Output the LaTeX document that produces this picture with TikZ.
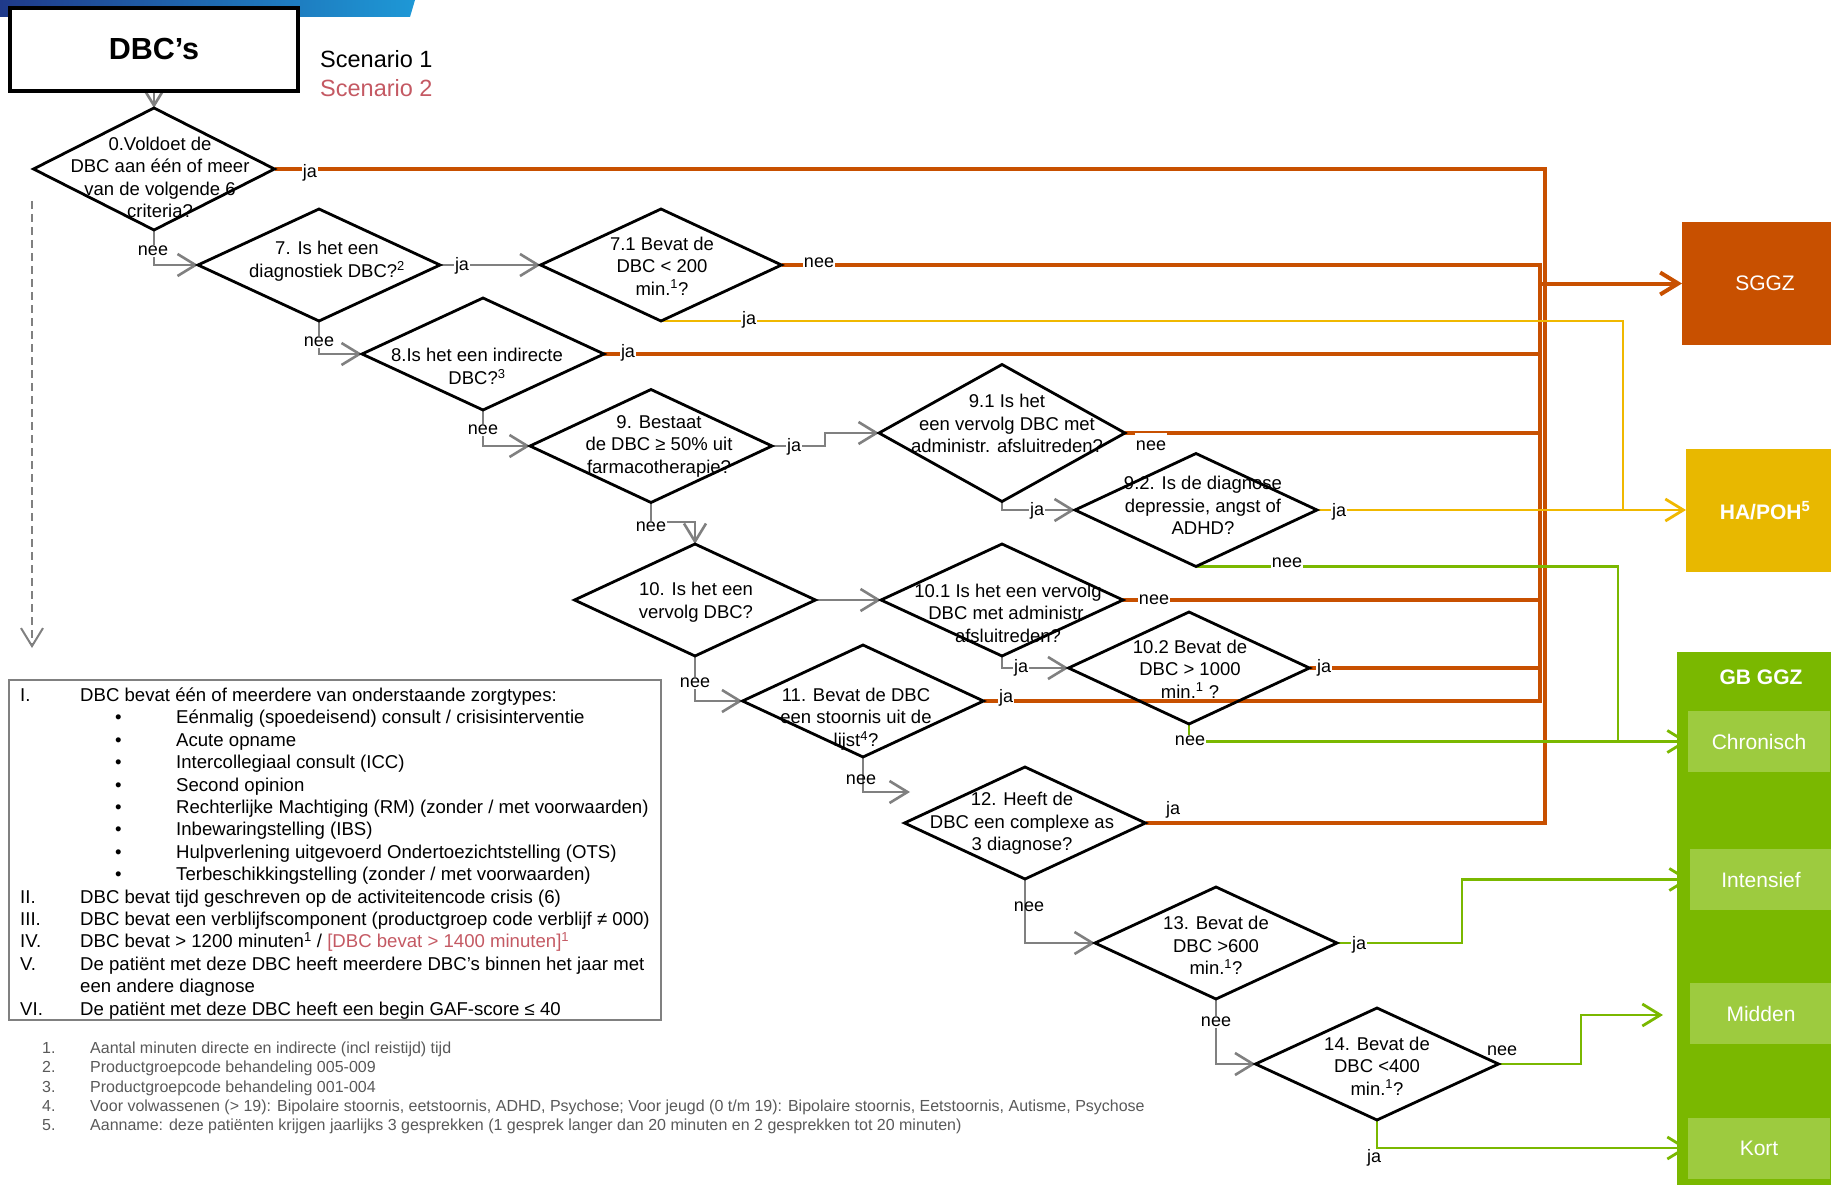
\documentclass[tikz,border=0pt]{standalone}
\usepackage{fontspec}
\setmainfont{Liberation Sans}
\usetikzlibrary{shapes.geometric,arrows.meta,backgrounds}

\definecolor{sggzkleur}{RGB}{200,80,0}
\definecolor{hapohkleur}{RGB}{232,184,0}
\definecolor{geel}{RGB}{240,184,0}
\definecolor{gbkleur}{RGB}{122,184,0}
\definecolor{gbsub}{RGB}{157,203,63}
\definecolor{lijngrijs}{RGB}{128,128,128}
\definecolor{voetgrijs}{RGB}{89,89,89}
\definecolor{scentwee}{RGB}{196,89,99}
\definecolor{balklinks}{RGB}{31,58,138}
\definecolor{balkrechts}{RGB}{30,152,214}

\newcommand{\dfont}{\fontsize{18.5}{22.5}\selectfont}
\newcommand{\lfont}{\fontsize{18}{21}\selectfont}
\newcommand{\cfont}{\fontsize{18.6}{22.4}\selectfont}
\newcommand{\vfont}{\fontsize{16}{19.3}\selectfont}
\newcommand{\bfont}{\fontsize{21}{25}\selectfont}
\newcommand{\bul}{\hspace*{35pt}\makebox[61pt][l]{\textbullet}}

\begin{document}
\begin{tikzpicture}[x=1pt,y=-1pt,
    >={Straight Barb[length=18pt,width=22pt]},
    dia/.style={draw,diamond,line width=2.8pt,inner sep=0pt,outer sep=0pt,
        minimum width=241pt,minimum height=112pt},
    dtxt/.style={align=center,font=\dfont,inner sep=0pt},
    lbl/.style={font=\lfont,fill=white,inner sep=1pt},
    lblnf/.style={font=\lfont,inner sep=1pt},
    grijs/.style={draw=lijngrijs,line width=2.6pt},
    oranje/.style={draw=sggzkleur,line width=3.2pt},
    geellijn/.style={draw=geel,line width=2.8pt},
    groen/.style={draw=gbkleur,line width=2.8pt},
    doel/.style={inner sep=0pt,outer sep=0pt,text=white}]
\useasboundingbox (0,0) rectangle (1831,1185);

%% Top bar and title
\shade[left color=balklinks,right color=balkrechts]
    (0,0) -- (415,0) -- (410,17) -- (0,17) -- cycle;
\node[draw,line width=3.3pt,fill=white,inner sep=0pt,minimum width=288pt,
    minimum height=83pt,font=\bfseries\fontsize{30.5}{34}\selectfont]
    (dbc) at (154,49.5) {DBC’s};
\node[anchor=base west,inner sep=0pt,font=\fontsize{23.5}{28}\selectfont]
    (scen1) at (320,67.7) {Scenario 1};
\node[anchor=base west,inner sep=0pt,font=\fontsize{23.5}{28}\selectfont,text=scentwee]
    (scen2) at (320,96.7) {Scenario 2};

%% Decision diamonds
\node[dia,minimum height=122pt] (d0) at (154,169) {};
\node[dia,minimum width=242pt] (d7) at (319,265) {};
\node[dia] (d71) at (661,265) {};
\node[dia,minimum width=242pt] (d8) at (483,354) {};
\node[dia,minimum width=242pt,minimum height=113pt] (d9) at (651,446) {};
\node[dia,minimum width=246pt,minimum height=137pt] (d91) at (1002,433) {};
\node[dia,minimum width=242pt,minimum height=113pt] (d92) at (1196,510) {};
\node[dia] (d10) at (695,600) {};
\node[dia,minimum width=242pt] (d101) at (1002,600) {};
\node[dia] (d102) at (1189,668) {};
\node[dia] (d11) at (863,701) {};
\node[dia] (d12) at (1025,823) {};
\node[dia,minimum width=242pt] (d13) at (1216,943) {};
\node[dia,minimum width=243pt] (d14) at (1377,1064) {};

%% Diamond texts
\node[dtxt] (t0) at (160,177.5) {0.Voldoet de\\DBC aan één of meer\\van de volgende 6\\criteria?};
\node[dtxt] (t7) at (327,261) {7. Is het een\\diagnostiek DBC?\textsuperscript{2}};
\node[dtxt] (t71) at (662,266) {7.1 Bevat de\\DBC < 200\\min.\textsuperscript{1}?};
\node[dtxt] (t8) at (477,366.5) {8.Is het een indirecte\\DBC?\textsuperscript{3}};
\node[dtxt] (t9) at (659,446) {9. Bestaat\\de DBC ≥ 50\% uit\\farmacotherapie?};
\node[dtxt] (t91) at (1007,423.5) {9.1 Is het\\een vervolg DBC met\\administr. afsluitreden?};
\node[dtxt] (t92) at (1203,505.5) {9.2. Is de diagnose\\depressie, angst of\\ADHD?};
\node[dtxt] (t10) at (696,602) {10. Is het een\\vervolg DBC?};
\node[dtxt] (t101) at (1008,613) {10.1 Is het een vervolg\\DBC met administr.\\afsluitreden?};
\node[dtxt] (t102) at (1190,669) {10.2 Bevat de\\DBC > 1000\\min.\textsuperscript{1} ?};
\node[dtxt] (t11) at (856,719) {11. Bevat de DBC\\een stoornis uit de\\lijst\textsuperscript{4}?};
\node[dtxt] (t12) at (1022,823.5) {12. Heeft de\\DBC een complexe as\\3 diagnose?};
\node[dtxt] (t13) at (1216,945.5) {13. Bevat de\\DBC >600\\min.\textsuperscript{1}?};
\node[dtxt] (t14) at (1377,1066) {14. Bevat de\\DBC <400\\min.\textsuperscript{1}?};

%% Outcome boxes
\node[doel,fill=sggzkleur,minimum width=166pt,minimum height=123pt,font=\bfont]
    (sggz) at (1765,283.5) {SGGZ};
\node[doel,fill=hapohkleur,minimum width=158pt,minimum height=123pt,font=\bfont\bfseries]
    (hapoh) at (1765,510.5) {HA/POH\textsuperscript{5}};
\node[doel,fill=gbkleur,minimum width=168pt,minimum height=560pt,anchor=north]
    (gbggz) at (1761,652) {};
\node[doel,font=\bfont\bfseries] (gbtitel) at (1761,677) {GB GGZ};
\node[doel,fill=gbsub,minimum width=142pt,minimum height=61pt,font=\bfont]
    (chron) at (1759,741.5) {Chronisch};
\node[doel,fill=gbsub,minimum width=142pt,minimum height=61pt,font=\bfont]
    (intens) at (1761,879.5) {Intensief};
\node[doel,fill=gbsub,minimum width=142pt,minimum height=61pt,font=\bfont]
    (midden) at (1761,1013.5) {Midden};
\node[doel,fill=gbsub,minimum width=142pt,minimum height=61pt,font=\bfont]
    (kort) at (1759,1148) {Kort};

%% Criteria box
\node[draw=lijngrijs,line width=2pt,minimum width=652pt,minimum height=340pt]
    (crit) at (335,850) {};
\node[anchor=base west,inner sep=0pt,font=\cfont] (crittekst) at (20,701.5) {%
\begin{tabular}[t]{@{}p{60pt}@{}l@{}}
I.   & DBC bevat één of meerdere van onderstaande zorgtypes:\\
     & \bul Eénmalig (spoedeisend) consult / crisisinterventie\\
     & \bul Acute opname\\
     & \bul Intercollegiaal consult (ICC)\\
     & \bul Second opinion\\
     & \bul Rechterlijke Machtiging (RM) (zonder / met voorwaarden)\\
     & \bul Inbewaringstelling (IBS)\\
     & \bul Hulpverlening uitgevoerd Ondertoezichtstelling (OTS)\\
     & \bul Terbeschikkingstelling (zonder / met voorwaarden)\\
II.  & DBC bevat tijd geschreven op de activiteitencode crisis (6)\\
III. & DBC bevat een verblijfscomponent (productgroep code verblijf ≠ 000)\\
IV.  & DBC bevat > 1200 minuten\textsuperscript{1} / \textcolor{scentwee}{[DBC bevat > 1400 minuten]\textsuperscript{1}}\\
V.   & De patiënt met deze DBC heeft meerdere DBC’s binnen het jaar met\\
     & een andere diagnose\\
VI.  & De patiënt met deze DBC heeft een begin GAF-score ≤ 40
\end{tabular}};

%% Footnotes
\node[anchor=base west,inner sep=0pt,font=\vfont,text=voetgrijs] (voetnoten) at (42,1053.5) {%
\begin{tabular}[t]{@{}p{48pt}@{}l@{}}
1. & Aantal minuten directe en indirecte (incl reistijd) tijd\\
2. & Productgroepcode behandeling 005-009\\
3. & Productgroepcode behandeling 001-004\\
4. & Voor volwassenen (> 19): Bipolaire stoornis, eetstoornis, ADHD, Psychose; Voor jeugd (0 t/m 19): Bipolaire stoornis, Eetstoornis, Autisme, Psychose\\
5. & Aanname: deze patiënten krijgen jaarlijks 3 gesprekken (1 gesprek langer dan 20 minuten en 2 gesprekken tot 20 minuten)
\end{tabular}};

%% Free ends
\coordinate (stipboven) at (32,201);
\coordinate (stiponder) at (32,648);
\coordinate (pijl11) at (910,792);
\coordinate (hubA) at (1540,283.5);
\coordinate (hubB) at (1545,283.5);
\coordinate (midpijl) at (1663,1015);

\begin{scope}[on background layer]
    %% Grey flow
    \draw[grijs,->] (dbc.south) -- (d0.north);
    \draw[grijs,->] (d0.south) |- (d7.west);
    \draw[grijs,->] (d7.east) -- (d71.west);
    \draw[grijs,->] (d7.south) |- (d8.west);
    \draw[grijs,->] (d8.south) |- (d9.west);
    \draw[grijs,->] (d9.east) -- (825,446) |- (d91.west);
    \draw[grijs,->] (d9.south) -- (651,522) -| (d10.north);
    \draw[grijs,->] (d10.east) -- (d101.west);
    \draw[grijs,->] (d10.south) |- (d11.west);
    \draw[grijs,->] (d91.south) |- (d92.west);
    \draw[grijs,->] (d101.south) |- (d102.west);
    \draw[grijs,->] (d11.south) |- (pijl11);
    \draw[grijs,->] (d12.south) |- (d13.west);
    \draw[grijs,->] (d13.south) |- (d14.west);
    \draw[grijs,line width=2pt,dash pattern=on 8pt off 5pt,->] (stipboven) -- (stiponder);

    %% SGGZ
    \draw[oranje] (d0.east) -| (hubB);
    \draw[oranje] (d71.east) -| (hubA);
    \draw[oranje] (d8.east) -| (hubA);
    \draw[oranje] (d91.east) -| (hubA);
    \draw[oranje] (d101.east) -| (hubA);
    \draw[oranje] (d102.east) -| (hubA);
    \draw[oranje] (d11.east) -| (hubA);
    \draw[oranje] (d12.east) -| (hubB);
    \draw[oranje,line width=4pt,->] (hubA) -- (sggz.west);

    %% HA/POH
    \draw[geellijn] (d71.south) -| (1623,510.5);
    \draw[geellijn,->] (d92.east) -- (d92.east -| hapoh.west);

    %% GB GGZ
    \draw[groen] (d92.south) -| (1618,741.5);
    \draw[groen,->] (d102.south) |- (chron.west);
    \draw[groen,->] (d13.east) -- (1462,943) |- (intens.west);
    \draw[groen,->] (d14.east) -- (1581,1064) |- (midpijl);
    \draw[groen,->] (d14.south) |- (kort.west);

    %% Labels
    \node[lbl] (l0n) at (153,251) {nee};
    \node[lbl] (l0j) at (310,173) {ja};
    \node[lbl] (l7j) at (462,266) {ja};
    \node[lbl] (l7n) at (319,342) {nee};
    \node[lbl] (l71n) at (819,263) {nee};
    \node[lbl] (l71j) at (749,320) {ja};
    \node[lbl] (l8n) at (483,430) {nee};
    \node[lbl] (l8j) at (628,353) {ja};
    \node[lbl] (l9j) at (794,447) {ja};
    \node[lbl] (l9n) at (651,527) {nee};
    \node[lbl,inner ysep=8pt] (l91n) at (1151,446) {nee};
    \node[lbl] (l91j) at (1037,511) {ja};
    \node[lbl] (l92j) at (1339,512) {ja};
    \node[lbl] (l92n) at (1287,563) {nee};
    \node[lbl] (l10n) at (695,683) {nee};
    \node[lbl] (l101n) at (1154,600) {nee};
    \node[lbl] (l101j) at (1021,668) {ja};
    \node[lbl] (l102j) at (1324,668) {ja};
    \node[lbl] (l102n) at (1190,741) {nee};
    \node[lbl] (l11j) at (1006,698) {ja};
    \node[lblnf] (l11n) at (861,780) {nee};
    \node[lblnf] (l12j) at (1173,810) {ja};
    \node[lblnf] (l12n) at (1029,907) {nee};
    \node[lbl] (l13j) at (1359,945) {ja};
    \node[lbl] (l13n) at (1216,1022) {nee};
    \node[lblnf] (l14n) at (1502,1051) {nee};
    \node[lbl] (l14j) at (1374,1158) {ja};
\end{scope}
\end{tikzpicture}
\end{document}
